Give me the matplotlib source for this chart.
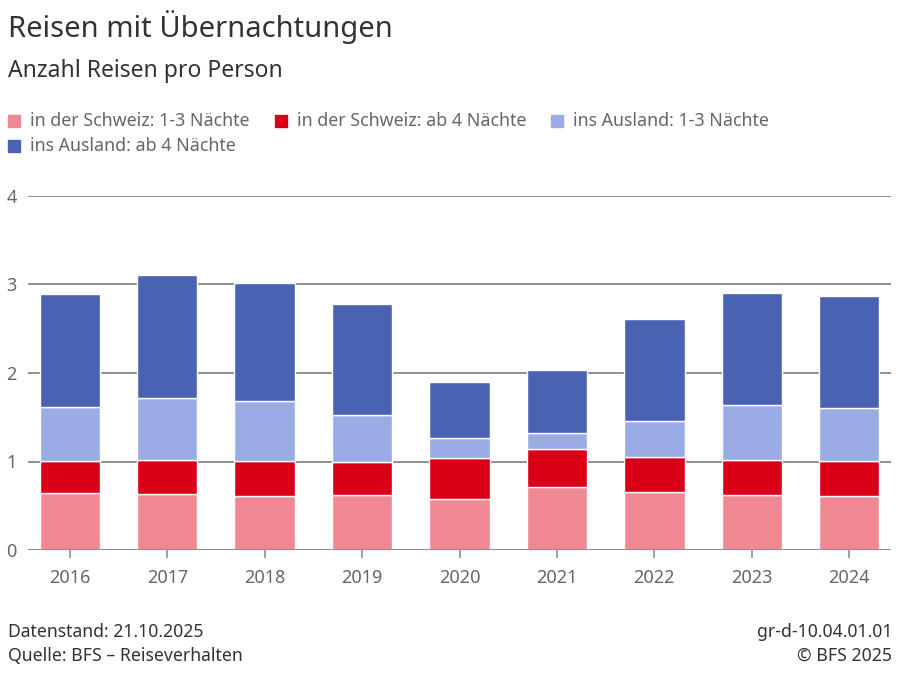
import matplotlib
matplotlib.use("Agg")
import matplotlib.pyplot as plt
from matplotlib.patches import Rectangle
import numpy as np

plt.rcParams['font.family'] = ['Noto Sans', 'DejaVu Sans']

years = ["2016", "2017", "2018", "2019", "2020", "2021", "2022", "2023", "2024"]
ch_short = [0.645, 0.63, 0.61, 0.62, 0.58, 0.71, 0.66, 0.62, 0.61]
ch_long = [0.365, 0.385, 0.40, 0.37, 0.46, 0.43, 0.39, 0.40, 0.40]
abroad_short = [0.61, 0.70, 0.67, 0.54, 0.23, 0.18, 0.41, 0.62, 0.59]
abroad_long = [1.275, 1.39, 1.34, 1.25, 0.63, 0.71, 1.15, 1.26, 1.27]

series = [
    ("in der Schweiz: 1-3 Nächte", ch_short, "#ef8893"),
    ("in der Schweiz: ab 4 Nächte", ch_long, "#da0018"),
    ("ins Ausland: 1-3 Nächte", abroad_short, "#99ade4"),
    ("ins Ausland: ab 4 Nächte", abroad_long, "#4a62b2"),
]
yticks = [0, 1, 2, 3, 4]

fig = plt.figure(figsize=(9, 6.77), dpi=100)
ax = fig.add_axes([28/900, 1-550/677, 863/900, 354/677])

x = np.arange(len(years))
bottom = np.zeros(len(years))
for name, vals, col in series:
    v = np.array(vals)
    ax.bar(x, v, bottom=bottom, width=0.62, color=col, edgecolor="white",
           linewidth=1.0, zorder=3)
    bottom += v

ax.set_xlim(-0.43, len(years) - 1 + 0.43)
ax.set_ylim(0, 4)
ax.set_yticks(yticks)
ax.set_yticklabels([str(t) for t in yticks])
ax.set_xticks(x)
ax.set_xticklabels(years)
for s in ax.spines.values():
    s.set_visible(False)
ax.grid(axis="y", color="#8f8f8f", linewidth=1.4, zorder=1)
ax.axhline(0, color="#8f8f8f", linewidth=1.4, zorder=4)
ax.tick_params(axis="y", length=0, pad=8, labelsize=13, labelcolor="#666666")
ax.tick_params(axis="x", length=6, width=1.2, color="#8f8f8f", pad=8,
               labelsize=13, labelcolor="#666666")

# Title / subtitle
fig.text(8/900, 1-27/677, "Reisen mit Übernachtungen", fontsize=21,
         color="#333333", va="center", ha="left")
fig.text(8/900, 1-71/677, "Anzahl Reisen pro Person", fontsize=16.5,
         color="#333333", va="center", ha="left")

# Legend (manual, row-wise)
leg_pos = [(8, 121), (275, 121), (551, 121), (8, 146)]
for (name, vals, col), (lx, ly) in zip(series, leg_pos):
    fig.patches.append(Rectangle((lx/900, 1-(ly+6)/677), 12/900, 12/677,
                                 transform=fig.transFigure, color=col))
    fig.text((lx+22)/900, 1-ly/677, name, fontsize=12.8, color="#666666",
             va="center", ha="left")

# Footer
fig.text(8/900, 1-632/677, "Datenstand: 21.10.2025", fontsize=12.7,
         color="#333333", va="center", ha="left")
fig.text(8/900, 1-656/677, "Quelle: BFS – Reiseverhalten", fontsize=12.7,
         color="#333333", va="center", ha="left")
fig.text(892/900, 1-632/677, "gr-d-10.04.01.01", fontsize=12.7,
         color="#333333", va="center", ha="right")
fig.text(892/900, 1-656/677, "© BFS 2025", fontsize=12.7,
         color="#333333", va="center", ha="right")

fig.savefig("out.png", dpi=100)
